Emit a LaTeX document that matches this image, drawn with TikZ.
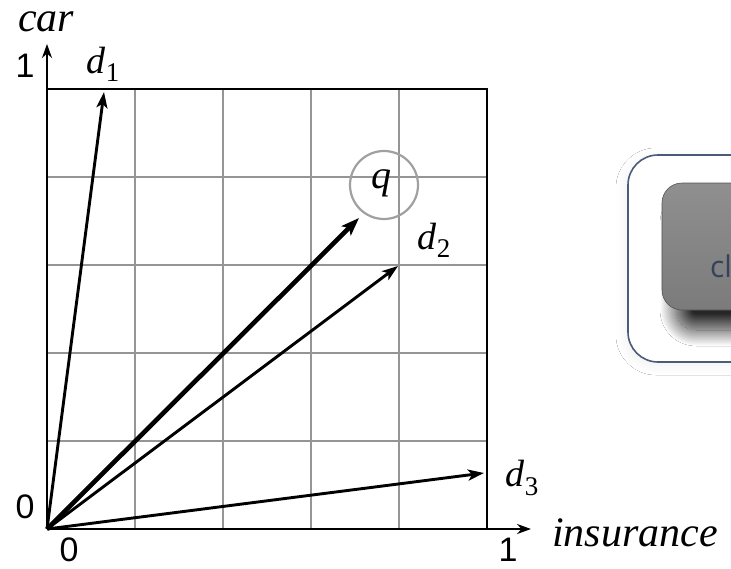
\documentclass[tikz,border=0pt]{standalone}
\usepackage{fontspec}
\newfontfamily\numfont{Liberation Sans}
\newfontfamily\labfont{Liberation Serif}
\newfontfamily\btnfont{Open Sans}
\usetikzlibrary{arrows.meta,shadows.blur}
\definecolor{gridgray}{HTML}{959595}
\definecolor{panelblue}{HTML}{4A5C7A}
\definecolor{btntext}{HTML}{36415A}
\definecolor{btntop}{HTML}{8F8F8F}
\definecolor{btnbot}{HTML}{7B7B7B}
\newcommand{\vlab}[2]{\fontsize{38}{40}\labfont\itshape #1\raisebox{-0.22em}{\fontsize{27}{28}\labfont\upshape #2}}
\tikzset{
  gridline/.style={draw=gridgray, line width=1.5pt},
  frameline/.style={draw=black, line width=2.9pt},
  axisline/.style={draw=black, line width=2.6pt, -{Stealth[length=14pt,width=10pt]}},
  vec/.style={draw=black, line width=2.9pt, -{Stealth[length=16pt,width=11pt,inset=4pt]}},
  qvec/.style={draw=black, line width=4.6pt, -{Stealth[length=18pt,width=13pt,inset=4pt]}},
  ital/.style={font=\fontsize{42}{44}\labfont\itshape, inner sep=0pt},
  mlab/.style={inner sep=0pt},
  num/.style={font=\fontsize{34}{36}\numfont, inner sep=0pt},
}
\begin{document}
\begin{tikzpicture}[x=1pt,y=-1pt]
\useasboundingbox (0,0) rectangle (731,568);
\fill[white] (0,0) rectangle (731,568);
% grid
\foreach \g in {135,223,311,399} {
  \draw[gridline] (\g,89) -- (\g,529);
}
\foreach \g in {177,265,353,441} {
  \draw[gridline] (47,\g) -- (487,\g);
}
\coordinate (O) at (47,529);
\coordinate (ytip) at (47,44);
\coordinate (xtip) at (531,529);
\coordinate (TL) at (47,89);
\coordinate (TR) at (487,89);
\coordinate (BR) at (487,529);
\draw[frameline] (TL) -- (TR) -- (BR);
\draw[axisline] (O) -- (ytip);
\draw[axisline] (O) -- (xtip);
% vectors
\coordinate (d1) at (104,92);
\coordinate (q) at (359,218);
\coordinate (d2) at (398,266);
\coordinate (d3) at (484,473);
\draw[vec] (O) -- (d1);
\draw[vec] (O) -- (d2);
\draw[vec] (O) -- (d3);
\draw[qvec] (O) -- (q);
% q circle
\node[draw=gridgray!90!white, line width=2.2pt, circle, minimum size=68pt, inner sep=0pt] (qc) at (384,185) {};
\node[mlab, font=\fontsize{40}{42}\labfont\itshape] (ql) at (381,183) {q};
% labels
\node[mlab] (d1l) at (103,64) {\vlab{d}{1}};
\node[mlab] (d2l) at (434,240) {\vlab{d}{2}};
\node[mlab] (d3l) at (522,478) {\vlab{d}{3}};
\node[ital] (car) at (46,22) {car};
\node[ital, anchor=west] (ins) at (552,533) {insurance};
\node[num] (y1) at (25,66) {1};
\node[num] (y0) at (25,507) {0};
\node[num] (x0) at (69,550) {0};
\node[num] (x1) at (508,550) {1};
% right panel
\begin{scope}
\clip (0,0) rectangle (731,568);
\draw[panelblue, line width=1.6pt, fill=white, rounded corners=30pt,
  blur shadow={shadow xshift=-2pt, shadow yshift=-3pt, shadow blur radius=10pt, shadow opacity=6, shadow blur steps=30}]
  (628,155) rectangle (800,362);
\path[rounded corners=20pt, top color=btntop, bottom color=btnbot,
  draw=gray!65!black, line width=0.6pt,
  blur shadow={shadow xshift=14pt, shadow yshift=-20pt, shadow blur radius=16pt, shadow opacity=85, shadow blur steps=40}]
  (662,183) rectangle (800,310);
\node[font=\fontsize{30}{32}\btnfont, text=btntext, anchor=base west, inner sep=0pt] (btn) at (710,277) {cl};
\end{scope}
\end{tikzpicture}
\end{document}
